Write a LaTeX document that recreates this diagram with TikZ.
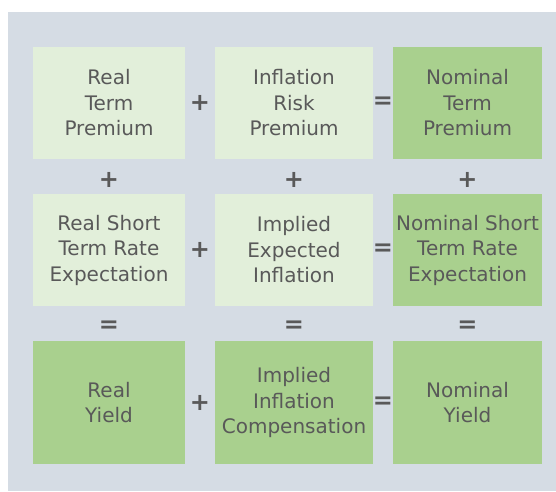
\documentclass[tikz,border=0pt]{standalone}
\usepackage{fontspec}
\setmainfont{DejaVu Sans}
\usepackage{xcolor}
\usetikzlibrary{calc}

\definecolor{panelgray}{HTML}{D5DCE4}
\definecolor{palegreen}{HTML}{E2EFDA}
\definecolor{leafgreen}{HTML}{A9D08E}
\definecolor{inkgray}{HTML}{595959}

\begin{document}
\begin{tikzpicture}[x=1pt, y=-1pt]

\tikzstyle{cell} = [rectangle, minimum height=112pt, text centered, align=center, text=inkgray, font=\fontsize{20}{25.5}\selectfont, inner sep=0pt]
\tikzstyle{pale} = [cell, fill=palegreen]
\tikzstyle{dark} = [cell, fill=leafgreen]
\tikzstyle{op} = [text=inkgray, font=\fontsize{24}{24}\selectfont\bfseries, inner sep=0pt]

\useasboundingbox (0,0) rectangle (556,491);
\fill[panelgray] (8,12) rectangle (556,491);

% first row
\node (rtp) [pale, minimum width=152pt] at (109,103) {Real\\Term\\Premium};
\node (irp) [pale, minimum width=158pt] at (294,103) {Inflation\\Risk\\Premium};
\node (ntp) [dark, minimum width=149pt] at (467.5,103) {Nominal\\Term\\Premium};
% second row
\node (rse) [pale, minimum width=152pt] at (109,250) {Real Short\\Term Rate\\Expectation};
\node (iei) [pale, minimum width=158pt] at (294,250) {Implied\\Expected\\Inflation};
\node (nse) [dark, minimum width=149pt] at (467.5,250) {Nominal Short\\Term Rate\\Expectation};
% third row
\node (ry) [dark, minimum width=152pt, minimum height=123pt] at (109,402.5) {Real\\Yield};
\node (iic) [dark, minimum width=158pt, minimum height=123pt] at (294,402.5) {Implied\\Inflation\\Compensation};
\node (ny) [dark, minimum width=149pt, minimum height=123pt] at (467.5,402.5) {Nominal\\Yield};

% operators across
\node (p1) [op] at ($(rtp.east)!0.5!(irp.west)$) {+};
\node (e1) [op] at ($(irp.east)!0.5!(ntp.west)$) {=};
\node (p2) [op] at ($(rse.east)!0.5!(iei.west)$) {+};
\node (e2) [op] at ($(iei.east)!0.5!(nse.west)$) {=};
\node (p3) [op] at ($(ry.east)!0.5!(iic.west)$) {+};
\node (e3) [op] at ($(iic.east)!0.5!(ny.west)$) {=};
% operators down
\node (v1) [op] at ($(rtp.south)!0.6!(rse.north)$) {+};
\node (v2) [op] at ($(irp.south)!0.6!(iei.north)$) {+};
\node (v3) [op] at ($(ntp.south)!0.6!(nse.north)$) {+};
\node (w1) [op] at ($(rse.south)!0.6!(ry.north)$) {=};
\node (w2) [op] at ($(iei.south)!0.6!(iic.north)$) {=};
\node (w3) [op] at ($(nse.south)!0.6!(ny.north)$) {=};
\end{tikzpicture}
\end{document}
